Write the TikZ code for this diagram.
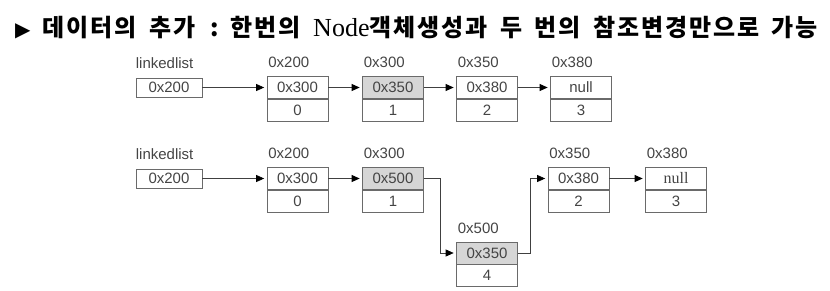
\documentclass[tikz,border=0pt]{standalone}
\usepackage{fontspec}
\setmainfont{Liberation Sans}
\newfontfamily\krfont[LetterSpace=8]{Noto Sans CJK KR}
\newfontfamily\nodeserif{Liberation Serif}
\newfontfamily\symfont{DejaVu Sans}
\usetikzlibrary{arrows.meta,positioning}
\definecolor{txt}{HTML}{444444}
\definecolor{edge}{HTML}{6A6A6A}
\definecolor{shadefill}{HTML}{D6D6D6}
\newcommand\tsp{\hspace{12.5pt}}
\tikzset{
  cell/.style={draw=edge, line width=0.7pt, minimum width=61pt, minimum height=22pt,
    inner sep=0pt, font=\fontsize{15}{15}\selectfont, text=txt},
  gcell/.style={cell, fill=shadefill},
  headbox/.style={cell, minimum width=66pt, minimum height=19pt},
  lbl/.style={anchor=base west, inner sep=0pt, font=\fontsize{15}{15}\selectfont, text=txt},
  arr/.style={draw=black!75, line width=0.7pt, -{Triangle[length=8pt,width=7pt,color=black]}, shorten >=2.5pt},
  titlestyle/.style={anchor=west, inner sep=0pt, font=\krfont\bfseries\fontsize{24}{24}\selectfont}
}
\begin{document}
\begin{tikzpicture}[x=1pt,y=-1pt]
\useasboundingbox (0,0) rectangle (830,290);
% title
\node[titlestyle] (title) at (15,28)
  {{\symfont\fontsize{20}{20}\selectfont ▶}\hspace{12pt}데이터의\tsp{}추가\hspace{15pt}:\hspace{12pt}한번의\tsp{}{\nodeserif\mdseries\fontsize{26}{26}\selectfont Node}객체생성과\tsp{}두\tsp{}번의\tsp{}참조변경만으로\tsp{}가능};

% ---------- row 1 ----------
\node[headbox] (L1) at (169,87.5) {0x200};
\node[lbl] (L1l) at ([yshift=9pt]L1.north west) {linkedlist};

\node[cell] (A1t) at (297.5,87.5) {0x300};
\node[cell, anchor=north] (A1b) at (A1t.south) {0};
\node[lbl] (A1l) at ([xshift=1.5pt,yshift=8.5pt]A1t.north west) {0x200};

\node[gcell] (A2t) at (393,87.5) {0x350};
\node[cell, anchor=north] (A2b) at (A2t.south) {1};
\node[lbl] (A2l) at ([xshift=1.5pt,yshift=8.5pt]A2t.north west) {0x300};

\node[cell] (A3t) at (487,87.5) {0x380};
\node[cell, anchor=north] (A3b) at (A3t.south) {2};
\node[lbl] (A3l) at ([xshift=1.5pt,yshift=8.5pt]A3t.north west) {0x350};

\node[cell] (A4t) at (581,87.5) {null};
\node[cell, anchor=north] (A4b) at (A4t.south) {3};
\node[lbl] (A4l) at ([xshift=1.5pt,yshift=8.5pt]A4t.north west) {0x380};

\draw[arr] (L1.east) -- (A1t.west);
\draw[arr] (A1t.east) -- (A2t.west);
\draw[arr] (A2t.east) -- (A3t.west);
\draw[arr] (A3t.east) -- (A4t.west);

% ---------- row 2 ----------
\node[headbox] (L2) at (169,178.5) {0x200};
\node[lbl] (L2l) at ([yshift=9pt]L2.north west) {linkedlist};

\node[cell] (B1t) at (297.5,178.5) {0x300};
\node[cell, anchor=north] (B1b) at (B1t.south) {0};
\node[lbl] (B1l) at ([xshift=1.5pt,yshift=8.5pt]B1t.north west) {0x200};

\node[gcell] (B2t) at (393,178.5) {0x500};
\node[cell, anchor=north] (B2b) at (B2t.south) {1};
\node[lbl] (B2l) at ([xshift=1.5pt,yshift=8.5pt]B2t.north west) {0x300};

\node[gcell] (B5t) at (487,253) {0x350};
\node[cell, anchor=north] (B5b) at (B5t.south) {4};
\node[lbl] (B5l) at ([xshift=1.5pt,yshift=8.5pt]B5t.north west) {0x500};

\node[cell] (B3t) at (578.5,178.5) {0x380};
\node[cell, anchor=north] (B3b) at (B3t.south) {2};
\node[lbl] (B3l) at ([xshift=1.5pt,yshift=8.5pt]B3t.north west) {0x350};

\node[cell, font=\nodeserif\fontsize{16}{16}\selectfont] (B4t) at (676,178.5) {null};
\node[cell, anchor=north] (B4b) at (B4t.south) {3};
\node[lbl] (B4l) at ([xshift=1.5pt,yshift=8.5pt]B4t.north west) {0x380};

\draw[arr] (L2.east) -- (B1t.west);
\draw[arr] (B1t.east) -- (B2t.west);
\draw[arr] (B2t.east) -- ++(16,0) |- (B5t.west);
\draw[arr] (B5t.east) -- ++(12,0) |- (B3t.west);
\draw[arr] (B3t.east) -- (B4t.west);
\end{tikzpicture}
\end{document}
